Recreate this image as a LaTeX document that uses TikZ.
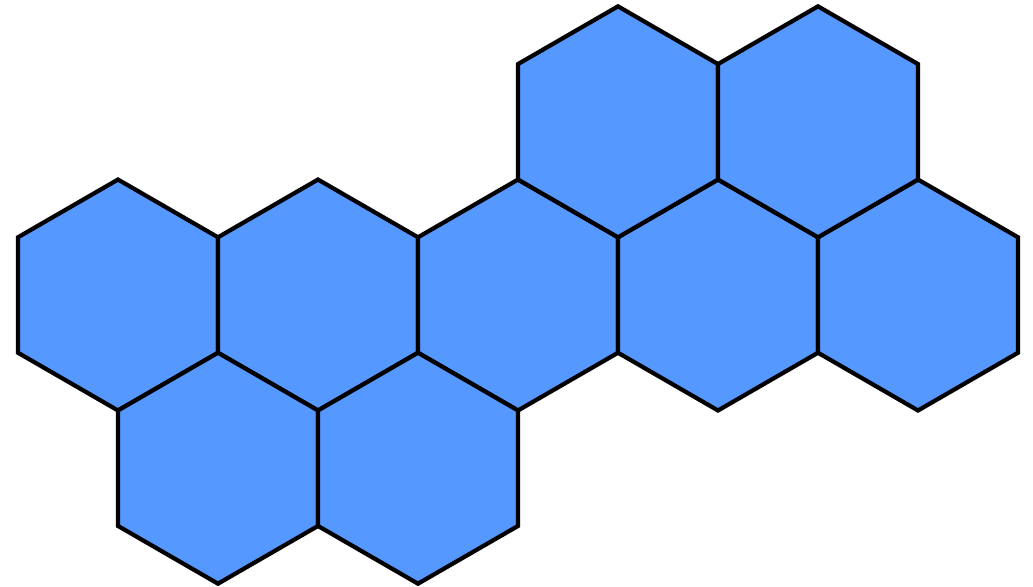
\documentclass[tikz,border=0pt]{standalone}
\definecolor{hexblue}{RGB}{85,152,255}
\begin{document}
\begin{tikzpicture}[x=0.02cm,y=-0.02cm,
  hexline/.style={draw=black, fill=hexblue, line width=2.4pt, line join=miter}]
\useasboundingbox (0,0) rectangle (1033,586);
\coordinate (m1) at (118,295);
\coordinate (m2) at (318,295);
\coordinate (m3) at (518,295);
\coordinate (m4) at (718,295);
\coordinate (m5) at (918,295);
\coordinate (t1) at (618,121.8);
\coordinate (t2) at (818,121.8);
\coordinate (b1) at (218,468.2);
\coordinate (b2) at (418,468.2);
\foreach \c in {m1,m2,m3,m4,m5,t1,t2,b1,b2}{
  \draw[hexline] (\c) ++(0,-115.47) -- ++(100,57.735) -- ++(0,115.47) -- ++(-100,57.735)
    -- ++(-100,-57.735) -- ++(0,-115.47) -- cycle;
}
\end{tikzpicture}
\end{document}
